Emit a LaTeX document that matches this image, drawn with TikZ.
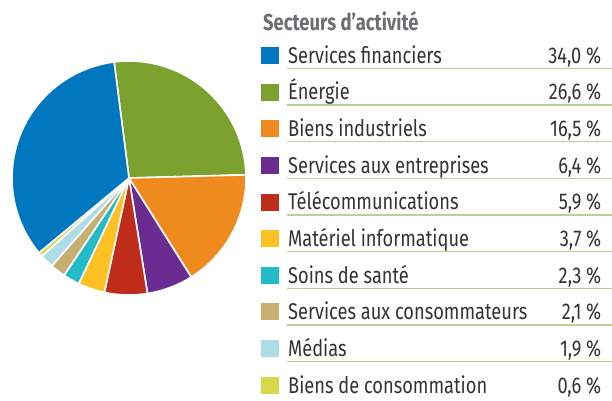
\documentclass[tikz,border=0pt]{standalone}
\usepackage{fontspec}
\setmainfont{Fira Sans}[FakeStretch=0.8]
\definecolor{cBlue}{HTML}{0077BE}
\definecolor{cGreen}{HTML}{7BA22F}
\definecolor{cOrange}{HTML}{EE8A1E}
\definecolor{cPurple}{HTML}{6A2C91}
\definecolor{cRed}{HTML}{BF2D1A}
\definecolor{cYellow}{HTML}{FDC123}
\definecolor{cTeal}{HTML}{22BCC8}
\definecolor{cTan}{HTML}{C7AE72}
\definecolor{cLight}{HTML}{AEDDE8}
\definecolor{cLime}{HTML}{D8D84A}
\definecolor{cLine}{HTML}{B9D192}
\definecolor{cText}{HTML}{333333}
\definecolor{cTitle}{HTML}{6D6E71}
\begin{document}
\begin{tikzpicture}[x=1pt,y=-1pt,
  slice/.style={draw=white,line width=1.6pt,line join=round},
  lab/.style={anchor=base west,inner sep=0pt,text=cText,font=\fontsize{22.8}{24}\selectfont},
  val/.style={anchor=base east,inner sep=0pt,text=cText,font=\fontsize{22.8}{24}\selectfont},
  sq/.style={minimum width=18pt,minimum height=17pt,inner sep=0pt,anchor=north west},
  rule/.style={draw=cLine,line width=1.3pt}]
\useasboundingbox (0,0) rectangle (612,400);
\begin{scope}[shift={(129,178)},yscale=-1]
\foreach \a/\b/\c in {97.3/1.54/cGreen,1.54/-57.86/cOrange,-57.86/-80.9/cPurple,-80.9/-102.14/cRed,-102.14/-115.46/cYellow,-115.46/-123.74/cTeal,-123.74/-131.3/cTan,-131.3/-138.14/cLight,-138.14/-140.3/cLime,-140.3/-262.7/cBlue}
  \filldraw[slice,fill=\c] (0,0) -- (\a:117) arc[start angle=\a,end angle=\b,radius=117] -- cycle;
\end{scope}
\node[anchor=base west,inner sep=0pt,text=cTitle,font=\fontsize{23}{24}\selectfont\bfseries] (title) at (263,30.7) {Secteurs d’activité};
\foreach \i/\c/\t/\v in {0/cBlue/Services financiers/{34,0 \%},1/cGreen/Énergie/{26,6 \%},2/cOrange/Biens industriels/{16,5 \%},3/cPurple/Services aux entreprises/{6,4 \%},4/cRed/Télécommunications/{5,9 \%},5/cYellow/Matériel informatique/{3,7 \%},6/cTeal/Soins de santé/{2,3 \%},7/cTan/Services aux consommateurs/{2,1 \%},8/cLight/Médias/{1,9 \%},9/cLime/Biens de consommation/{0,6 \%}}{
  \pgfmathsetmacro{\yb}{63.3+36.65*\i}
  \node[sq,fill=\c] (sq\i) at (261,\yb-16.6) {};
  \node[lab] (lab\i) at (288,\yb) {\t};
  \node[val] (val\i) at (601.5,\yb) {\v};
}
\foreach \i in {0,...,8}{
  \pgfmathsetmacro{\yl}{68.3+36.65*\i}
  \draw[rule] (287,\yl) -- (612,\yl);
}
\end{tikzpicture}
\end{document}
